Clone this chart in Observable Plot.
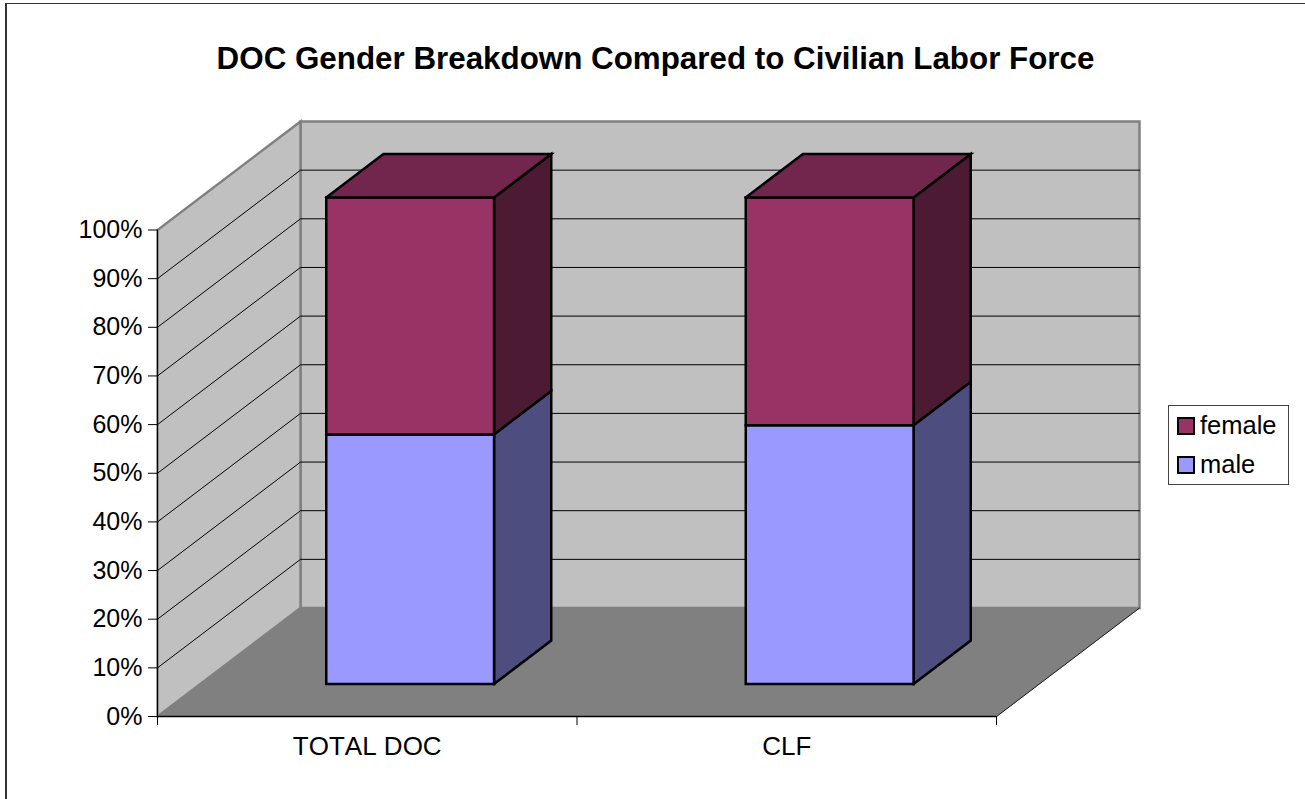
<!DOCTYPE html>
<html>
<head>
<meta charset="utf-8">
<script src="https://cdn.jsdelivr.net/npm/d3@7"></script>
<script src="https://cdn.jsdelivr.net/npm/@observablehq/plot@0.6"></script>
<style>
html,body{margin:0;padding:0;background:#fff;overflow:hidden}
#page{position:relative;width:1305px;height:799px;font-family:"Liberation Sans",Arial,sans-serif;color:#000;font-kerning:none}
#page svg{position:absolute;left:0;top:0;max-width:none;font-kerning:none}
#frame{position:absolute;left:5px;top:3px;right:-5px;bottom:-5px;border-left:2px solid #333;border-top:1px solid #333}
#title{position:absolute;left:0;width:1311px;top:41px;text-align:center;font-weight:bold;font-size:31.35px;line-height:36px;white-space:nowrap}
#legend{position:absolute;left:1168px;top:405px;width:119px;height:78px;border:1px solid #444;background:#fff;font-size:25.5px}
.row{position:absolute;left:8px;height:18px;width:108px}
.sw{position:absolute;left:0;top:0;width:14px;height:14px;border:2px solid #000}
.lab{position:absolute;left:23px;top:-6px;line-height:29px}
</style>
</head>
<body>
<div id="page">
  <div id="frame"></div>
  <div id="title"></div>
  <div id="legend"></div>
</div>
<script>
const titleText = "DOC Gender Breakdown Compared to Civilian Labor Force";
const categories = ["TOTAL DOC", "CLF"];
const male = [51.3, 53.2];
const female = [48.7, 46.8];
const percentTicks = [0, 10, 20, 30, 40, 50, 60, 70, 80, 90, 100];
const gridTicks = [10, 20, 30, 40, 50, 60, 70, 80, 90];
const legendLabels = ["female", "male"];

const colors = {
  male: {front: "#9999FF", side: "#4D4D80", top: "#73739F"},
  female: {front: "#993366", side: "#4D1A33", top: "#73264D"}
};

// Oblique projection of the chart's depth axis, in data units per unit of depth
const depthX = 143 / 419.5;
const depthY = 108.5 / 4.865;
const P = (x, y, d) => ({x: x + d * depthX, y: y + d * depthY});

let nextId = 0;
function poly(points, fill, stroke) {
  const id = nextId++;
  return [...points, points[0]].map((p) => ({...p, id, fill, stroke}));
}

const nCat = categories.length;
const walls = [
  ...poly([P(0, 0, 1), P(nCat, 0, 1), P(nCat, 100, 1), P(0, 100, 1)], "#C0C0C0", "#808080"),
  ...poly([P(0, 0, 0), P(0, 0, 1), P(0, 100, 1), P(0, 100, 0)], "#C0C0C0", "#808080")
];
const floor = poly([P(0, 0, 0), P(nCat, 0, 0), P(nCat, 0, 1), P(0, 0, 1)], "#808080", "#808080");

const gridRows = gridTicks.flatMap((t) => {
  const a = P(0, t, 0), b = P(0, t, 1), c = P(nCat, t, 1);
  return [{...a, t}, {...b, t}, {...c, t}];
});
const floorEdge = [P(nCat, 0, 0), P(nCat, 0, 1)];

const barWidth = 0.4, d0 = 0.30, d1 = 0.70;
const faces = categories.flatMap((c, i) => {
  const x0 = i + 0.5 - barWidth / 2, x1 = x0 + barWidth;
  const face = (y0, y1, col, withTop) => [
    ...poly([P(x1, y0, d0), P(x1, y0, d1), P(x1, y1, d1), P(x1, y1, d0)], col.side, "#000"),
    ...poly([P(x0, y0, d0), P(x1, y0, d0), P(x1, y1, d0), P(x0, y1, d0)], col.front, "#000"),
    ...(withTop ? poly([P(x0, y1, d0), P(x1, y1, d0), P(x1, y1, d1), P(x0, y1, d1)], col.top, "#000") : [])
  ];
  return [
    ...face(0, male[i], colors.male, false),
    ...face(male[i], male[i] + female[i], colors.female, true)
  ];
});

const polyOpts = {x: "x", y: "y", z: "id", fill: "fill", stroke: "stroke",
  strokeLinejoin: "miter", strokeLinecap: "square", strokeMiterlimit: 4};

const chart = Plot.plot({
  width: 1305,
  height: 799,
  marginLeft: 157,
  marginRight: 309,
  marginTop: 229.5,
  marginBottom: 83,
  style: {background: "transparent", fontFamily: "'Liberation Sans', Arial, sans-serif", color: "#000"},
  x: {domain: [0, nCat], label: null},
  y: {domain: [0, 100], label: null},
  color: {type: "identity"},
  marks: [
    Plot.line(walls, {...polyOpts, strokeWidth: 2.5}),
    Plot.line(floor, {...polyOpts, strokeWidth: 1}),
    Plot.line(gridRows, {x: "x", y: "y", z: "t", stroke: "#000", strokeWidth: 1}),
    Plot.line(floorEdge, {x: "x", y: "y", stroke: "#222", strokeWidth: 1}),
    Plot.ruleX([0], {y1: 0, y2: 100, stroke: "#000", strokeWidth: 1}),
    Plot.ruleY([0], {x1: 0, x2: nCat, stroke: "#000", strokeWidth: 1.5}),
    Plot.axisY({ticks: percentTicks, tickFormat: (d) => d + "%", tickSize: 9, tickPadding: 6,
      fontSize: 25, label: null, stroke: "#000", fill: "#000"}),
    Plot.axisX({ticks: d3.range(nCat + 1), tickFormat: () => "", tickSize: 9, label: null, stroke: "#000"}),
    Plot.axisX({ticks: categories.map((c, i) => i + 0.5), tickFormat: (d) => categories[Math.floor(d)],
      tickSize: 0, tickPadding: 20, fontSize: 26, label: null, fill: "#000"}),
    Plot.line(faces, {...polyOpts, strokeWidth: 2.5})
  ]
});

const page = document.getElementById("page");
page.insertBefore(chart, document.getElementById("title"));
document.getElementById("title").textContent = titleText;

const legend = document.getElementById("legend");
const legendColors = {female: colors.female.front, male: colors.male.front};
legendLabels.forEach((name, i) => {
  const row = document.createElement("div");
  row.className = "row";
  row.style.top = (11 + i * 39) + "px";
  const sw = document.createElement("div");
  sw.className = "sw";
  sw.style.background = legendColors[name];
  const lab = document.createElement("div");
  lab.className = "lab";
  lab.textContent = name;
  row.append(sw, lab);
  legend.append(row);
});
</script>
</body>
</html>
